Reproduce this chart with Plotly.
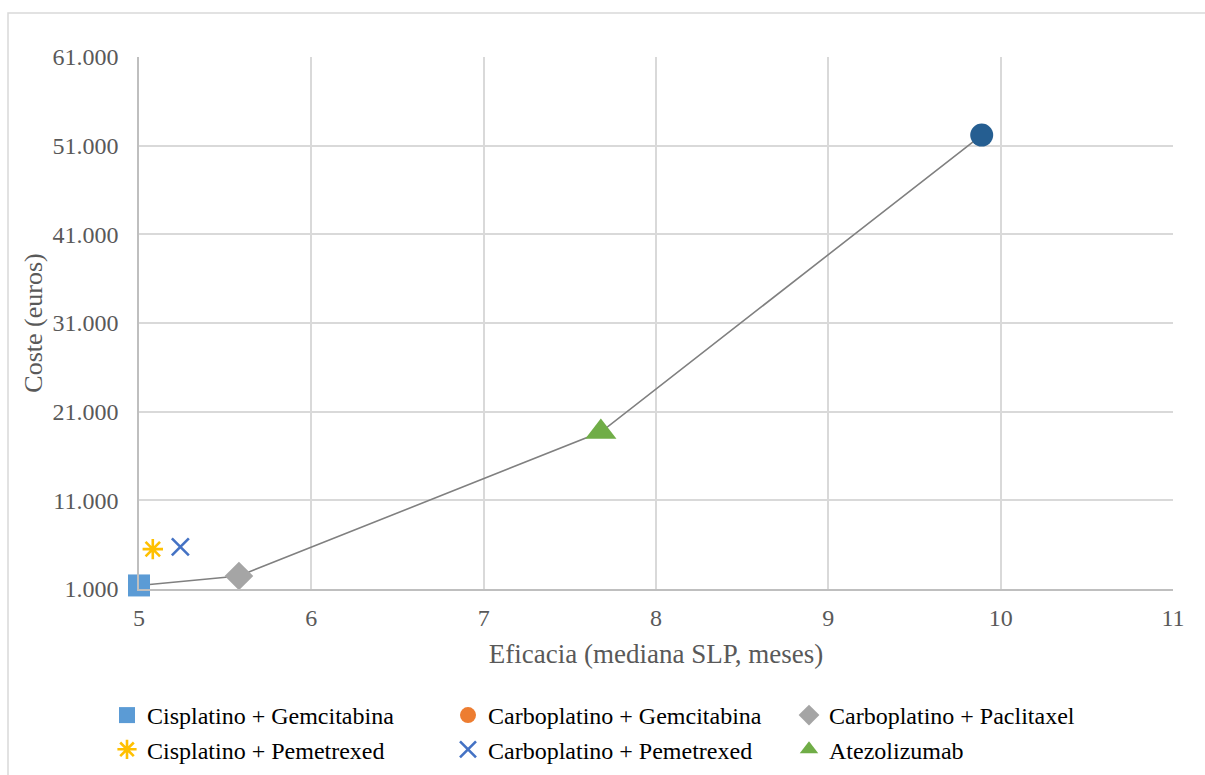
import plotly.graph_objects as go

# Cost-effectiveness data: efficacy (median PFS, months) vs. cost (euros)
series_names = [
    "Cisplatino + Gemcitabina",
    "Carboplatino + Gemcitabina",
    "Carboplatino + Paclitaxel",
    "Cisplatino + Pemetrexed",
    "Carboplatino + Pemetrexed",
    "Atezolizumab",
]
series_x = [[5.0], [], [5.58], [5.08], [5.24], [7.68]]
series_y = [[1400], [], [2470], [5500], [5750], [18700]]
series_colors = ["#5B9BD5", "#ED7D31", "#A5A5A5", "#FFC000", "#4472C4", "#70AD47"]
series_symbols = ["square", "circle", "diamond", "asterisk-open", "x-thin-open", "triangle-up"]
series_sizes = [22, 22, 22, 17, 17, 27]

# Efficiency frontier
frontier_x = [5.0, 5.58, 7.68, 9.89]
frontier_y = [1400, 2470, 18700, 52200]

# End point of the frontier
end_x = [9.89]
end_y = [52200]

x_ticks = [5, 6, 7, 8, 9, 10, 11]
y_ticks = [1000, 11000, 21000, 31000, 41000, 51000, 61000]
y_tick_labels = ["1.000", "11.000", "21.000", "31.000", "41.000", "51.000", "61.000"]

FONT = "Liberation Serif"
W, H = 1205, 775
ML, MR, MT, MB = 139, 32, 57, 186
PW, PH = W - ML - MR, H - MT - MB

fig = go.Figure()

fig.add_trace(go.Scatter(
    x=frontier_x, y=frontier_y, mode="lines",
    line=dict(color="#808080", width=1.6),
    showlegend=False, hoverinfo="skip", cliponaxis=False,
))

for name, xs, ys, col, sym, sz in zip(series_names, series_x, series_y,
                                      series_colors, series_symbols, series_sizes):
    if sym.endswith("-open"):
        marker = dict(symbol=sym, size=sz, color=col, line=dict(color=col, width=2.6))
    else:
        marker = dict(symbol=sym, size=sz, color=col, line=dict(width=0))
    fig.add_trace(go.Scatter(
        x=xs if xs else [None], y=ys if ys else [None], mode="markers", name=name,
        marker=marker, cliponaxis=False,
    ))

fig.add_trace(go.Scatter(
    x=end_x, y=end_y, mode="markers",
    marker=dict(symbol="circle", size=23, color="#255E91", line=dict(width=0)),
    showlegend=False, cliponaxis=False,
))

# Outer chart frame
fig.add_shape(
    type="rect", xref="paper", yref="paper",
    x0=(8 - ML) / PW, x1=(W + 10 - ML) / PW,
    y0=-(H + 10 - MT - PH) / PH, y1=1 + (MT - 13) / PH,
    line=dict(color="#D9D9D9", width=1.5), fillcolor="rgba(0,0,0,0)", layer="below",
)

fig.update_layout(
    width=W, height=H,
    margin=dict(l=ML, r=MR, t=MT, b=MB, autoexpand=False),
    paper_bgcolor="white", plot_bgcolor="white",
    font=dict(family=FONT, color="#595959", size=24),
    xaxis=dict(
        range=[5, 11], tickvals=x_ticks,
        ticks="outside", ticklen=6, tickcolor="rgba(0,0,0,0)",
        showgrid=True, gridcolor="#D9D9D9", gridwidth=1.5,
        showline=True, linecolor="#BFBFBF", linewidth=1.5,
        zeroline=False, automargin=False,
        tickfont=dict(family=FONT, size=24, color="#595959"),
        title=dict(text="Eficacia (mediana SLP, meses)", standoff=15,
                   font=dict(family=FONT, size=27, color="#595959")),
    ),
    yaxis=dict(
        range=[1000, 61000], tickvals=y_ticks, ticktext=y_tick_labels,
        ticks="outside", ticklen=14, tickcolor="rgba(0,0,0,0)",
        showgrid=True, gridcolor="#D9D9D9", gridwidth=1.5,
        showline=True, linecolor="#BFBFBF", linewidth=1.5,
        zeroline=False, automargin=False,
        tickfont=dict(family=FONT, size=24, color="#595959"),
        title=dict(text="Coste (euros)", standoff=2,
                   font=dict(family=FONT, size=26, color="#595959")),
    ),
    legend=dict(
        orientation="h", x=(107 - ML) / PW, xanchor="left",
        y=-(693 - MT - PH) / PH, yanchor="top",
        entrywidth=296, entrywidthmode="pixels",
        font=dict(family=FONT, size=24, color="#000000"),
        itemsizing="trace", tracegroupgap=0,
        bgcolor="rgba(0,0,0,0)",
    ),
)

fig.write_html("out.html")
